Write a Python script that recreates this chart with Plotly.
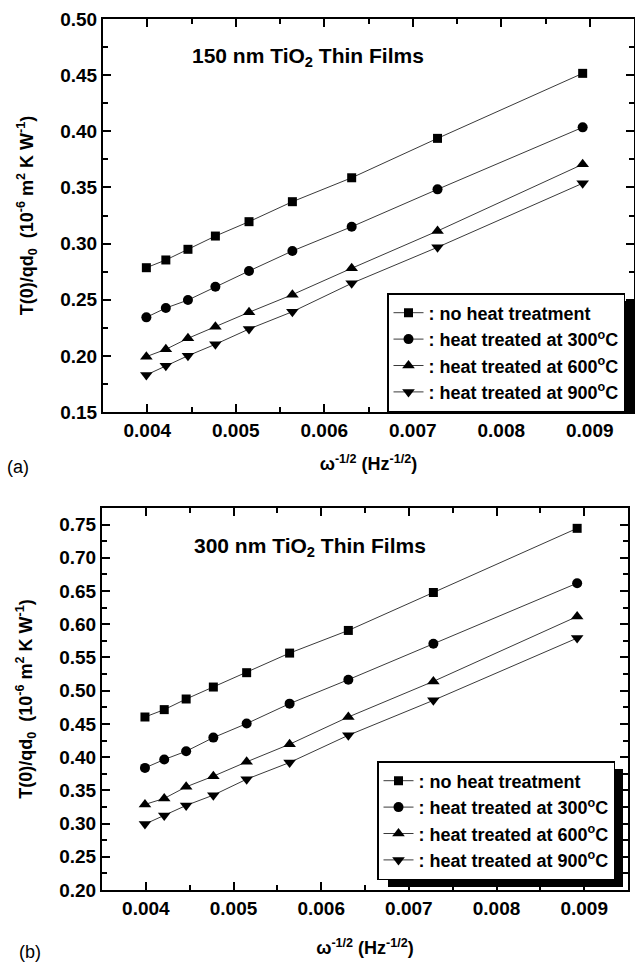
import plotly.graph_objects as go

# ---------------- data ----------------
x_vals = [0.00399, 0.00421, 0.00446, 0.00477, 0.00515, 0.00564, 0.00631, 0.00728, 0.00892]
labels = [": no heat treatment",
          ": heat treated at 300<sup>o</sup>C",
          ": heat treated at 600<sup>o</sup>C",
          ": heat treated at 900<sup>o</sup>C"]
symbols = ["square", "circle", "triangle-up", "triangle-down"]
sizes = [9, 10, 11, 11]

a_none = [0.2785, 0.2854, 0.2949, 0.3067, 0.3195, 0.3373, 0.3586, 0.3937, 0.4516]
a_300 = [0.2343, 0.2426, 0.2497, 0.2616, 0.2756, 0.2934, 0.3150, 0.3483, 0.4035]
a_600 = [0.1993, 0.2058, 0.2156, 0.2260, 0.2388, 0.2545, 0.2780, 0.3112, 0.3706]
a_900 = [0.1830, 0.1912, 0.2001, 0.2103, 0.2239, 0.2393, 0.2646, 0.2967, 0.3537]

b_none = [0.4604, 0.4715, 0.4875, 0.5055, 0.5271, 0.5566, 0.5907, 0.6478, 0.7444]
b_300 = [0.3838, 0.3964, 0.4089, 0.4294, 0.4505, 0.4805, 0.5166, 0.5707, 0.6618]
b_600 = [0.3288, 0.3378, 0.3553, 0.3713, 0.3929, 0.4194, 0.4604, 0.5140, 0.6117]
b_900 = [0.2992, 0.3122, 0.3273, 0.3428, 0.3668, 0.3919, 0.4329, 0.4855, 0.5792]

panel_a = [a_none, a_300, a_600, a_900]
panel_b = [b_none, b_300, b_600, b_900]

W, H = 635, 964
FONT = "Liberation Sans, Arial, sans-serif"

fig = go.Figure()

for ys, lab, sym, sz in zip(panel_a, labels, symbols, sizes):
    fig.add_trace(go.Scatter(
        x=x_vals, y=ys, name=lab, mode="lines+markers",
        line=dict(color="#3a3a3a", width=1),
        marker=dict(symbol=sym, size=sz, color="black"),
        xaxis="x", yaxis="y", legend="legend"))

for ys, lab, sym, sz in zip(panel_b, labels, symbols, sizes):
    fig.add_trace(go.Scatter(
        x=x_vals, y=ys, name=lab, mode="lines+markers",
        line=dict(color="#3a3a3a", width=1),
        marker=dict(symbol=sym, size=sz, color="black"),
        xaxis="x2", yaxis="y2", legend="legend2"))

tickfont = dict(family=FONT, size=19, color="black", weight="bold")
titlefont = dict(family=FONT, size=18, color="black", weight="bold")

def xax(domain, anchor, standoff):
    return dict(domain=domain, anchor=anchor, range=[0.0035, 0.0095], automargin=False,
                tick0=0, dtick=0.001, tickformat=".3f",
                showline=True, linewidth=2, linecolor="black", mirror="ticks",
                ticks="inside", ticklen=8, tickwidth=1.5, tickcolor="black",
                minor=dict(dtick=0.0005, ticks="inside", ticklen=5, tickwidth=1.5, tickcolor="black"),
                showgrid=False, zeroline=False, tickfont=tickfont,
                title=dict(text="ω<sup>-1/2</sup> (Hz<sup>-1/2</sup>)", font=titlefont, standoff=standoff))

def yax(domain, anchor, rng):
    return dict(domain=domain, anchor=anchor, range=rng, automargin=False,
                tick0=0, dtick=0.05, tickformat=".2f",
                showline=True, linewidth=2, linecolor="black", mirror="ticks",
                ticks="inside", ticklen=8, tickwidth=1.5, tickcolor="black",
                minor=dict(dtick=0.025, ticks="inside", ticklen=5, tickwidth=1.5, tickcolor="black"),
                showgrid=False, zeroline=False, tickfont=tickfont,
                title=dict(text="T(0)/qd<sub>0</sub>  (10<sup>-6</sup> m<sup>2</sup> K W<sup>-1</sup>)",
                           font=titlefont, standoff=22))

ya_dom = [1 - 412 / H, 1 - 19 / H]
yb_dom = [1 - 890 / H, 1 - 508 / H]

legfont = dict(family=FONT, size=18, color="black", weight="bold")

fig.update_layout(
    template="none",
    width=W, height=H,
    margin=dict(l=0, r=0, t=0, b=0, pad=0),
    paper_bgcolor="white", plot_bgcolor="white",
    font=dict(family=FONT, color="black"),
    xaxis=xax([103 / W, 634 / W], "y", 18),
    yaxis=yax(ya_dom, "x", [0.15, 0.50]),
    xaxis2=xax([102 / W, 628 / W], "y2", 24),
    yaxis2=yax(yb_dom, "x2", [0.20, 0.775]),
    legend=dict(x=625 / W, y=1 - 293 / H, xanchor="right", yanchor="top",
                bgcolor="white", bordercolor="black", borderwidth=1.5,
                font=legfont, tracegroupgap=0),
    legend2=dict(x=615 / W, y=1 - 761 / H, xanchor="right", yanchor="top",
                 bgcolor="white", bordercolor="black", borderwidth=1.5,
                 font=legfont, tracegroupgap=0),
    showlegend=True,
)

# legend drop shadows
fig.add_shape(type="rect", xref="paper", yref="paper",
              x0=398 / W, x1=634 / W, y0=1 - 412 / H, y1=1 - 301 / H,
              fillcolor="black", line=dict(width=0), layer="above")
fig.add_shape(type="rect", xref="paper", yref="paper",
              x0=388 / W, x1=623 / W, y0=1 - 887 / H, y1=1 - 769 / H,
              fillcolor="black", line=dict(width=0), layer="above")

# in-plot titles
fig.add_annotation(text="150 nm TiO<sub>2</sub> Thin Films", xref="paper", yref="paper",
                   x=190 / W, y=1 - 57 / H, xanchor="left", yanchor="middle", showarrow=False,
                   font=dict(family=FONT, size=21, color="black", weight="bold"))
fig.add_annotation(text="300 nm TiO<sub>2</sub> Thin Films", xref="paper", yref="paper",
                   x=192 / W, y=1 - 547 / H, xanchor="left", yanchor="middle", showarrow=False,
                   font=dict(family=FONT, size=21, color="black", weight="bold"))
# panel labels
fig.add_annotation(text="(a)", xref="paper", yref="paper", x=5 / W, y=1 - 467 / H,
                   xanchor="left", yanchor="middle", showarrow=False,
                   font=dict(family=FONT, size=18, color="black"))
fig.add_annotation(text="(b)", xref="paper", yref="paper", x=17 / W, y=1 - 952 / H,
                   xanchor="left", yanchor="middle", showarrow=False,
                   font=dict(family=FONT, size=18, color="black"))

fig.write_html("out.html", config={"displayModeBar": False},
               post_script="document.body.style.margin='0';document.body.style.overflow='hidden';")
